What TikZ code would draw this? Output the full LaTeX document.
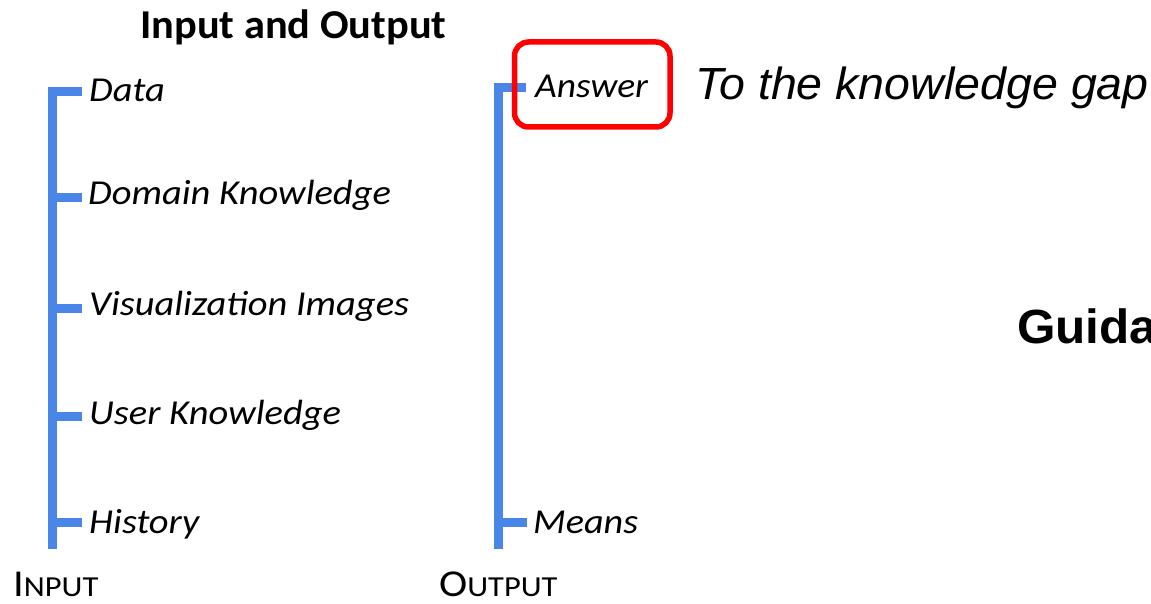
\documentclass[tikz,border=0pt]{standalone}
\usepackage{fontspec}
\setmainfont{Carlito}
\newfontfamily\arialf{Liberation Sans}
\usetikzlibrary{calc}
\definecolor{barblue}{RGB}{74,134,232}
\definecolor{boxred}{RGB}{255,0,0}
\newcommand\wx[2]{\scalebox{#1}[1]{#2}}
\begin{document}
\begin{tikzpicture}[x=1pt,y=-1pt,
  txt/.style={anchor=base west,inner sep=0pt},
  item/.style={txt,font=\fontsize{35}{40}\selectfont\itshape},
  barline/.style={draw=barblue,line width=9pt},
  hilite/.style={draw=boxred,line width=5.5pt,rounded corners=14pt}]
\useasboundingbox (0,0) rectangle (1151,604);
\clip (0,0) rectangle (1151,604);

% title
\node[txt,font=\fontsize{41}{48}\selectfont\bfseries] (title) at (140,39) {\wx{1.034}{Input and Output}};

% input items
\node[item] (data) at (89,102) {\wx{1.1}{Data}};
\node[item] (domain) at (88,205) {\wx{1.1}{Domain Knowledge}};
\node[item] (vis) at (89,315) {\wx{1.1}{Visualization Images}};
\node[item] (user) at (89,424) {\wx{1.1}{User Knowledge}};
\node[item] (hist) at (89,533) {\wx{1.1}{History}};

% output items
\node[item] (answer) at (535,98) {\wx{1.07}{Answer}};
\node[item] (means) at (533,533) {\wx{1.09}{Means}};

% labels
\node[txt] (inlabel) at (13,596) {\wx{1.12}{\fontsize{38}{44}\selectfont I\fontsize{29}{34}\selectfont NPUT}};
\node[txt] (outlabel) at (439,596) {\wx{1.12}{\fontsize{38}{44}\selectfont O\fontsize{29}{34}\selectfont UTPUT}};

\node[txt,font=\fontsize{45}{52}\selectfont\arialf\itshape] (gap) at (695,100) {\wx{1.034}{To the knowledge gap}};
\node[txt,font=\fontsize{48}{56}\selectfont\arialf\bfseries] (guid) at (1017,343) {\wx{1.03}{Guidance}};

% left bracket
\coordinate (ltop) at (52.5,87);
\coordinate (lbot) at (52.5,549);
\coordinate (t1) at (82,92);
\coordinate (t2) at (82,198);
\coordinate (t3) at (82,308);
\coordinate (t4) at (82,416);
\coordinate (t5) at (82,522);
\draw[barline] (ltop) -- (lbot);
\foreach \t in {t2,t3,t4,t5} \draw[barline] (ltop |- \t) -- (\t);
\draw[barline] ($(ltop |- t1)+(-4.5,0)$) -- (t1);

% right bracket
\coordinate (rtop) at (498.5,83);
\coordinate (rbot) at (498.5,549);
\coordinate (ta) at (526,87.5);
\coordinate (tm) at (527,522);
\draw[barline] (rtop) -- (rbot);
\draw[barline] ($(rtop |- ta)+(-4.5,0)$) -- (ta);
\draw[barline] (rtop |- tm) -- (tm);

% highlight box
\draw[hilite] (514.5,42) rectangle (670,127);
\end{tikzpicture}
\end{document}
